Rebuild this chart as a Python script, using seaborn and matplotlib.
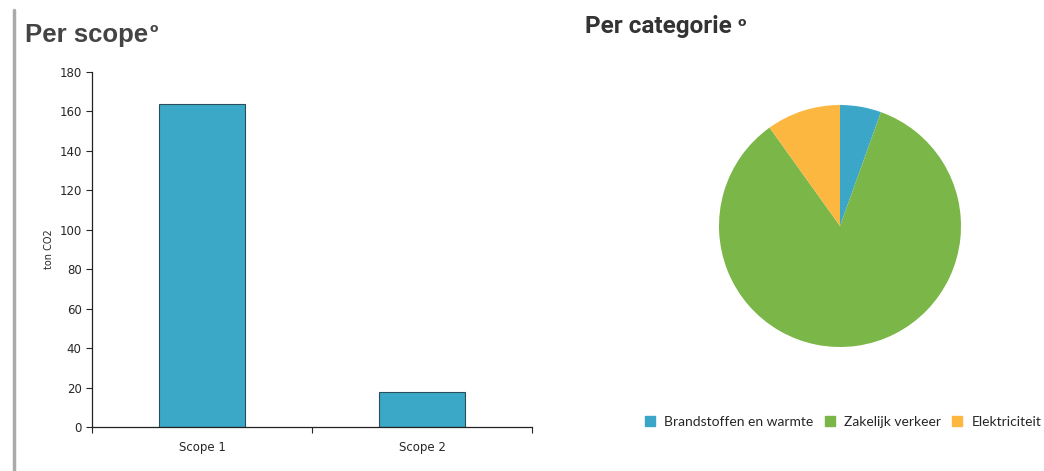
import matplotlib
matplotlib.use('Agg')
import matplotlib.pyplot as plt
import seaborn as sns
import pandas as pd
from matplotlib.lines import Line2D

scopes = ['Scope 1', 'Scope 2']
scope_values = [164, 18]

categories = ['Brandstoffen en warmte', 'Zakelijk verkeer', 'Elektriciteit']
category_values = [10, 154, 18]
category_colors = ['#3ba6c8', '#7ab648', '#fbb73f']

sns.set_style('white')
plt.rcParams['font.family'] = ['DejaVu Sans']

fig = plt.figure(figsize=(10.44, 4.71), dpi=100)

# left: bar chart per scope
ax1 = fig.add_axes([92 / 1044, 1 - 427 / 471, 440 / 1044, 355 / 471])
df = pd.DataFrame({'scope': scopes, 'value': scope_values})
sns.barplot(data=df, x='scope', y='value', ax=ax1, color='#3aa8c6',
            width=0.39, edgecolor='#2a4f5c', linewidth=0.8, saturation=1)
ax1.set_xlim(-0.5, 1.5)
ax1.set_ylim(0, 180)
ax1.set_yticks(range(0, 181, 20))
ax1.set_xlabel('')
ax1.set_ylabel('ton CO2', fontsize=7)
ax1.set_xticks([-0.5, 0.5, 1.5])
ax1.set_xticklabels([])
for i, s in enumerate(scopes):
    ax1.text(i, -7, s, ha='center', va='top', fontsize=8.5)
ax1.tick_params(axis='both', labelsize=8.5, length=4, direction='out',
                bottom=True, left=True, width=0.8)
sns.despine(ax=ax1)
for sp in ['left', 'bottom']:
    ax1.spines[sp].set_color('#222222')
    ax1.spines[sp].set_linewidth(0.9)

# right: pie per categorie
ax2 = fig.add_axes([(840 - 121) / 1044, 1 - (226 + 121) / 471, 242 / 1044, 242 / 471])
ax2.pie(category_values, colors=category_colors, startangle=90,
        counterclock=False, wedgeprops={'linewidth': 0})
ax2.set_xlim(-1, 1)
ax2.set_ylim(-1, 1)
ax2.set_aspect('equal')

# titles
fig.text(25 / 1044, 1 - 35 / 471, 'Per scope', fontsize=18.5, color='#444444',
         family='Liberation Sans', fontweight='bold', va='center', ha='left')
fig.text(149 / 1044, 1 - 28 / 471, 'o', fontsize=9, color='#444444',
         fontweight='bold', va='center', ha='left')
fig.text(585 / 1044, 1 - 26 / 471, 'Per categorie', fontsize=17.5,
         color='#333333', family='Roboto', fontweight='bold',
         va='center', ha='left')
fig.text(738 / 1044, 1 - 22 / 471, 'o', fontsize=9, color='#333333',
         fontweight='bold', va='center', ha='left')

# vertical separator on the left
fig.add_artist(Line2D([14 / 1044, 14 / 1044], [0, 1 - 10 / 471],
                      color='#aaaaaa', linewidth=2.5))

# legend
handles = [Line2D([], [], marker='s', linestyle='', markersize=7,
                  markerfacecolor=c, markeredgecolor=c) for c in category_colors]
fig.legend(handles, categories, loc='center right', ncol=3,
           bbox_to_anchor=(1044 / 1044, 1 - 422 / 471), frameon=False,
           handlelength=1.0, handletextpad=0.5, columnspacing=0.7,
           borderpad=0.1, borderaxespad=0.1,
           prop={'family': 'Lato', 'size': 10})

fig.savefig('out.png', dpi=100)
